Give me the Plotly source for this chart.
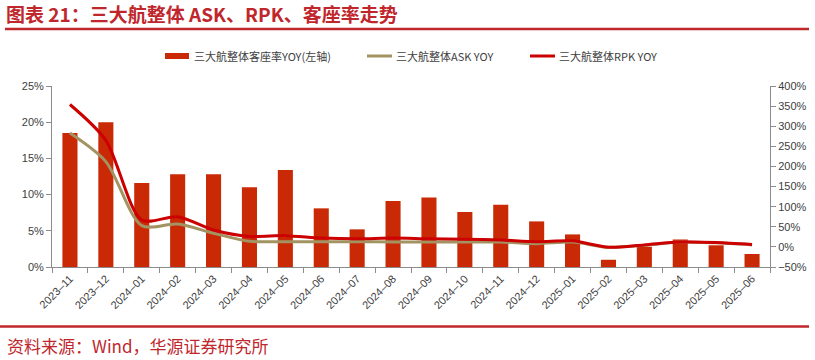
import plotly.graph_objects as go

categories = ["2023-11", "2023-12", "2024-01", "2024-02", "2024-03", "2024-04", "2024-05",
              "2024-06", "2024-07", "2024-08", "2024-09", "2024-10", "2024-11", "2024-12",
              "2025-01", "2025-02", "2025-03", "2025-04", "2025-05", "2025-06"]
tick_labels = [c.replace("-", "\u2013") for c in categories]
load_factor_yoy = [18.5, 20.0, 11.6, 12.8, 12.8, 11.0, 13.4, 8.1, 5.2, 9.1,
                   9.6, 7.6, 8.6, 6.3, 4.5, 1.0, 2.8, 3.8, 3.0, 1.8]
ask_yoy = [283, 212, 53, 57, 34, 14, 13, 13, 13, 12,
           12, 12, 12, 8, 12, -1, 4, 12, 10, 5]
rpk_yoy = [354, 265, 67, 75, 42, 26, 28, 22, 20, 22,
           20, 19, 17, 13, 15, -1, 5, 12, 11, 6]
series_names = ["三大航整体客座率YOY(左轴)", "三大航整体ASK YOY", "三大航整体RPK YOY"]

BAR = "#C92A05"
RED = "#CC0000"
OLIVE = "#A39262"
TXT = "#404040"
AX = "#8C8C8C"
TITLE_RED = "#C0272D"

W, H = 815, 360
L, R, T, B = 52, 45, 86, 93
PW, PH = W - L - R, H - T - B


def px(x):
    return (x - L) / PW


def py(y):
    return (H - B - y) / PH


fig = go.Figure()
fig.add_trace(go.Bar(x=categories, y=load_factor_yoy, name=series_names[0],
                     marker=dict(color=BAR, line=dict(width=0)), yaxis="y"))
fig.add_trace(go.Scatter(x=categories, y=ask_yoy, name=series_names[1], mode="lines",
                         line=dict(color=OLIVE, width=3, shape="spline", smoothing=0.8), yaxis="y2"))
fig.add_trace(go.Scatter(x=categories, y=rpk_yoy, name=series_names[2], mode="lines",
                         line=dict(color=RED, width=3, shape="spline", smoothing=0.8), yaxis="y2"))

fig.update_layout(
    width=W, height=H,
    margin=dict(l=L, r=R, t=T, b=B, autoexpand=False),
    paper_bgcolor="white", plot_bgcolor="white",
    bargap=0.58,
    font=dict(family="Liberation Sans, Arial, sans-serif", size=11, color=TXT),
    showlegend=False,
    xaxis=dict(type="category", tickmode="array", tickvals=categories, ticktext=tick_labels,
               tickangle=-45, showline=True, linecolor=AX, linewidth=1, automargin=False,
               ticks="outside", ticklen=5, tickcolor=AX, tickson="boundaries",
               showgrid=False, tickfont=dict(size=11, color=TXT)),
    yaxis=dict(range=[0, 25], dtick=5, ticksuffix="%", showline=True, linecolor=AX,
               ticks="outside", ticklen=5, tickcolor=AX, showgrid=False, zeroline=False,
               automargin=False, tickfont=dict(size=11, color=TXT)),
    yaxis2=dict(range=[-50, 400], dtick=50, ticksuffix="%", overlaying="y", side="right",
                showline=True, linecolor=AX, ticks="outside", ticklen=5, tickcolor=AX,
                showgrid=False, zeroline=False, automargin=False,
                tickfont=dict(size=11, color=TXT)),
)

# manual legend
leg_y = 56
swatch_x = [165, 367, 530]
for i, (sx, name) in enumerate(zip(swatch_x, series_names)):
    if i == 0:
        fig.add_shape(type="rect", xref="paper", yref="paper", x0=px(sx), x1=px(sx + 24),
                      y0=py(leg_y + 3), y1=py(leg_y - 3), fillcolor=BAR, line=dict(width=0))
    else:
        fig.add_shape(type="line", xref="paper", yref="paper", x0=px(sx), x1=px(sx + 25),
                      y0=py(leg_y), y1=py(leg_y),
                      line=dict(color=OLIVE if i == 1 else RED, width=3))
    fig.add_annotation(text=name, xref="paper", yref="paper", x=px(sx + 27), y=py(leg_y),
                       xanchor="left", yanchor="middle", showarrow=False,
                       font=dict(family="Noto Sans CJK SC", size=11, color=TXT))

fig.add_annotation(text="<b>图表 21：三大航整体 ASK、RPK、客座率走势</b>", xref="paper", yref="paper",
                   x=px(4), y=py(14), xanchor="left", yanchor="middle",
                   showarrow=False, font=dict(family="Noto Sans CJK SC", size=19, color=TITLE_RED))
fig.add_annotation(text="资料来源：Wind，华源证券研究所", xref="paper", yref="paper",
                   x=px(5), y=py(345), xanchor="left", yanchor="middle",
                   showarrow=False, font=dict(family="Noto Sans CJK SC", size=17, color=TITLE_RED))
fig.add_shape(type="line", xref="paper", yref="paper", x0=px(5), x1=px(809),
              y0=py(29), y1=py(29), line=dict(color=TITLE_RED, width=2.5))
fig.add_shape(type="line", xref="paper", yref="paper", x0=px(0), x1=px(809),
              y0=py(326.5), y1=py(326.5), line=dict(color=TITLE_RED, width=2.5))

fig.write_html("out.html", config={"displayModeBar": False},
               post_script="document.body.style.margin='0';document.body.style.overflow='hidden';")
